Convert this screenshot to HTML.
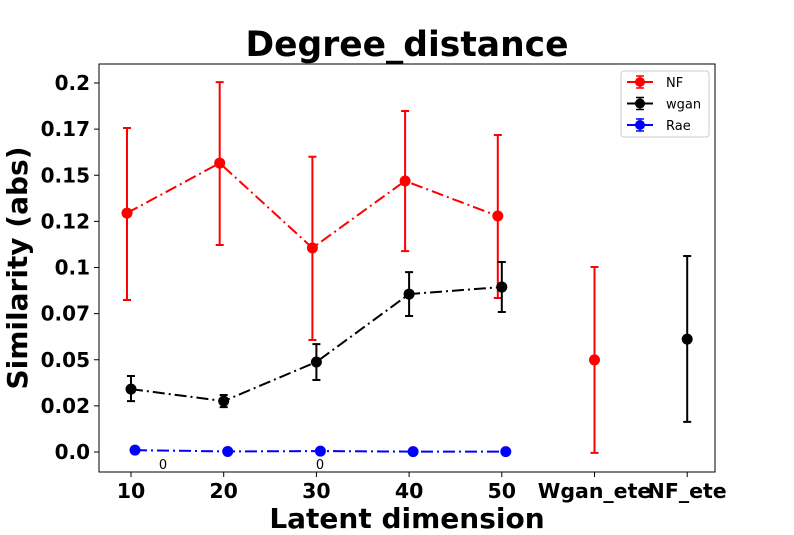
<!DOCTYPE html>
<html><head><meta charset="utf-8"><style>
body{margin:0;background:#fff;font-family:"Liberation Sans","DejaVu Sans",sans-serif}
svg text{font-family:"DejaVu Sans","Liberation Sans",sans-serif}
</style></head><body>
<svg id="chart" width="794" height="530" xmlns="http://www.w3.org/2000/svg">
<rect width="794" height="530" fill="#fff"/>
<text x="407" y="56" text-anchor="middle" font-size="34.5" font-weight="bold">Degree_distance</text>
<text x="407" y="528" text-anchor="middle" font-size="28" font-weight="bold">Latent dimension</text>
<text transform="translate(27,268) rotate(-90)" text-anchor="middle" font-size="28" font-weight="bold">Similarity (abs)</text>
<g id="axes"></g>
<g id="marks"></g>
<rect x="99" y="64" width="616" height="408" fill="none" stroke="#000" stroke-width="1"/>
<g>
<rect x="621" y="71" width="88" height="66" rx="3" fill="#fff" stroke="#ccc"/>
<g id="legend-items"></g>
</g>
</svg>
<script>
const categories=["10","20","30","40","50","Wgan_ete","NF_ete"];
const yTicks=[0,0.025,0.05,0.075,0.1,0.125,0.15,0.175,0.2];
const yTickLabels=["0.0","0.02","0.05","0.07","0.1","0.12","0.15","0.17","0.2"];
const nfValues=[0.1295,0.1566,0.1106,0.1469,0.1279];
const nfErrTop=[0.1756,0.2005,0.160,0.1848,0.1718];
const nfErrBottom=[0.0824,0.1122,0.0607,0.1089,0.0835];
const wganValues=[0.0341,0.0276,0.0488,0.0856,0.0894];
const wganErrTop=[0.0412,0.0309,0.0585,0.0975,0.1030];
const wganErrBottom=[0.0276,0.0243,0.0390,0.0737,0.0759];
const raeValues=[0.001,0.0003,0.0005,0.0002,0.0002];
const wganEteValue=[0.0499],wganEteTop=[0.1003],wganEteBottom=[-0.0005];
const nfEteValue=[0.0612],nfEteTop=[0.1062],nfEteBottom=[0.0163];
const annotations=["0","0"];
const NS="http://www.w3.org/2000/svg";
const xS=i=>131+i*92.7;
const yS=v=>452-v*1845;
function mk(tag,attrs,parent){const e=document.createElementNS(NS,tag);for(const k in attrs)e.setAttribute(k,attrs[k]);parent.appendChild(e);return e;}
const axes=document.getElementById('axes'),marks=document.getElementById('marks');
yTicks.forEach((t,i)=>{
 const l=mk('line',{x1:94,x2:99,y1:yS(t),y2:yS(t),stroke:'#000'},axes);
 
 
 const tx=mk('text',{x:90,y:yS(t)+7,'text-anchor':'end','font-size':20,'font-weight':'bold'},axes);
 tx.textContent=yTickLabels[i];
 
 
});
categories.forEach((c,i)=>{
 const l=mk('line',{x1:xS(i),x2:xS(i),y1:472,y2:477,stroke:'#000'},axes);
 
 
 const tx=mk('text',{x:xS(i),y:498,'text-anchor':'middle','font-size':20.5,'font-weight':'bold'},axes);
 tx.textContent=c;
 
 
});
function series(vals,top,bot,off,color,name,startIdx){
 const g=mk('g',{},marks);
 
 
 if(vals.length>1){
  const pts=vals.map((v,i)=>(xS(i+startIdx)+off)+','+yS(v)).join(' ');
  const pl=mk('polyline',{points:pts,fill:'none',stroke:color,'stroke-width':2,'stroke-dasharray':'12,4,2,4'},g);
  
  
 }
 vals.forEach((v,i)=>{
  const x=xS(i+startIdx)+off;
  if(top){
   const e=mk('path',{d:`M${x},${yS(top[i])}V${yS(bot[i])}M${x-4},${yS(top[i])}H${x+4}M${x-4},${yS(bot[i])}H${x+4}`,stroke:color,'stroke-width':2,fill:'none'},g);
   
   
  }
  const p=mk('circle',{cx:x,cy:yS(v),r:5.5,fill:color},g);
  
  
 });
}
series(nfValues,nfErrTop,nfErrBottom,-4,'#ff0000','nf',0);
series(wganValues,wganErrTop,wganErrBottom,0,'#000','wgan',0);
series(raeValues,null,null,4,'#0000ff','rae',0);
series(wganEteValue,wganEteTop,wganEteBottom,0,'#ff0000','wgan-ete',5);
series(nfEteValue,nfEteTop,nfEteBottom,0,'#000','nf-ete',6);
[[163,469],[320,469]].forEach((p,i)=>{
 const t=mk('text',{x:p[0],y:p[1],'text-anchor':'middle','font-size':13},marks);
 t.textContent=annotations[i];
 
 
});
const leg=document.getElementById('legend-items');
[['NF','#ff0000'],['wgan','#000'],['Rae','#0000ff']].forEach((d,i)=>{
 const y=82+i*21.5;
 const g=mk('g',{},leg);
 
 
 mk('line',{x1:627,x2:653,y1:y,y2:y,stroke:d[1],'stroke-width':2,'stroke-dasharray':'9,3,2,3'},g);
 mk('path',{d:`M640,${y-6}V${y+6}M636,${y-6}H644M636,${y+6}H644`,stroke:d[1],'stroke-width':1.5},g);
 mk('circle',{cx:640,cy:y,r:5,fill:d[1]},g);
 const t=mk('text',{x:666,y:y+5,'font-size':13},g);
 t.textContent=d[0];
});
</script>
</body></html>
